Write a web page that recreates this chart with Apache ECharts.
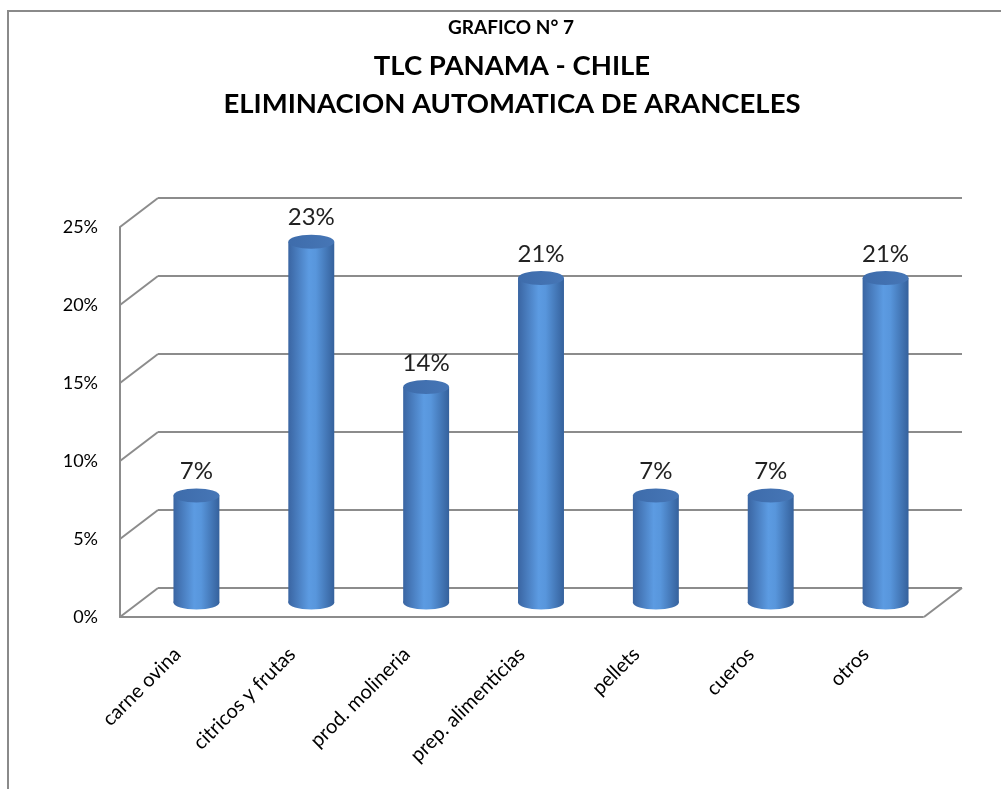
<!DOCTYPE html>
<html>
<head>
<meta charset="utf-8">
<title>TLC Panama - Chile</title>
<script src="https://cdn.jsdelivr.net/npm/echarts@6/dist/echarts.min.js"></script>
<style>
  html, body { margin: 0; padding: 0; background: #fff; }
  #main { width: 1001px; height: 789px; }
</style>
</head>
<body>
<div id="main"></div>
<script>
var categories = ["carne ovina", "citricos y frutas", "prod. molineria", "prep. alimenticias", "pellets", "cueros", "otros"];
var shares = [0.0698, 0.2326, 0.1395, 0.2093, 0.0698, 0.0698, 0.2093];
var yTicks = [0, 0.05, 0.10, 0.15, 0.20, 0.25];
var titleLines = ["GRAFICO N° 7", "TLC PANAMA - CHILE", "ELIMINACION AUTOMATICA DE ARANCELES"];

// desplazamiento de profundidad: pared trasera -> plano frontal
var DX = -38, DY = 29;
var FONT = "Lato, 'Open Sans', sans-serif";
var GRID_COLOR = "#8c8c8c";

function pct(v) {
  return Math.round(v * 100) + "%";
}

var myChart = echarts.init(document.getElementById("main"));

var option = {
  animation: false,
  graphic: [
    {
      type: "rect",
      silent: true,
      shape: { x: 8, y: 11, width: 1100, height: 900 },
      style: { fill: "none", stroke: "#8a8a8a", lineWidth: 2 },
    },
    {
      type: "text", x: 511, y: 28,
      style: { text: titleLines[0], align: "center", verticalAlign: "middle", fontSize: 19, fontWeight: "bold", fontFamily: FONT, fill: "#000" },
    },
    {
      type: "text", x: 512, y: 66,
      style: { text: titleLines[1], align: "center", verticalAlign: "middle", fontSize: 27.5, fontWeight: "bold", fontFamily: FONT, fill: "#000" },
    },
    {
      type: "text", x: 512, y: 104,
      style: { text: titleLines[2], align: "center", verticalAlign: "middle", fontSize: 27.5, fontWeight: "bold", fontFamily: FONT, fill: "#000" },
    },
  ],
  grid: [
    // pared del fondo
    { left: 158, right: 39, top: 198, bottom: 201 },
    // plano frontal
    { left: 120, right: 78, top: 227, bottom: 172 },
  ],
  xAxis: [
    {
      type: "category",
      gridIndex: 0,
      data: categories,
      axisLine: { show: false },
      axisTick: { show: false },
      axisLabel: { show: false },
    },
    {
      type: "category",
      gridIndex: 1,
      data: categories,
      axisLine: { show: true, lineStyle: { color: GRID_COLOR, width: 2 } },
      axisTick: { show: false },
      axisLabel: { interval: 0, rotate: 45, margin: 34, color: "#000", fontSize: 20, fontFamily: FONT },
    },
  ],
  yAxis: [
    {
      type: "value",
      gridIndex: 0,
      min: 0,
      max: 0.25,
      interval: 0.05,
      axisLine: { show: false },
      axisTick: { show: false },
      axisLabel: { show: false },
      splitLine: { lineStyle: { color: GRID_COLOR, width: 2 } },
    },
    {
      type: "value",
      gridIndex: 1,
      min: 0,
      max: 0.25,
      interval: 0.05,
      axisLine: { show: true, lineStyle: { color: GRID_COLOR, width: 2 } },
      axisTick: { show: false },
      splitLine: { show: false },
      axisLabel: { formatter: pct, margin: 22, color: "#000", fontSize: 18, fontFamily: FONT, padding: [6, 0, 0, 0] },
    },
  ],
  series: [
    {
      // lineas diagonales de la pared lateral y del piso
      type: "custom",
      silent: true,
      xAxisIndex: 0,
      yAxisIndex: 0,
      data: yTicks.map(function (v) { return [0, v]; }),
      renderItem: function (params, api) {
        var cs = params.coordSys;
        var v = api.value(1);
        var y = api.coord([0, v])[1];
        var st = { stroke: GRID_COLOR, lineWidth: 2 };
        var children = [
          { type: "line", shape: { x1: cs.x, y1: y, x2: cs.x + DX, y2: y + DY }, style: st },
        ];
        if (v === 0) {
          children.push({
            type: "line",
            shape: { x1: cs.x + cs.width, y1: y, x2: cs.x + cs.width + DX, y2: y + DY },
            style: st,
          });
        }
        return { type: "group", children: children };
      },
    },
    {
      // cilindros
      type: "custom",
      xAxisIndex: 0,
      yAxisIndex: 0,
      data: shares.map(function (v, i) { return [i, v]; }),
      renderItem: function (params, api) {
        var top = api.coord([api.value(0), api.value(1)]);
        var base = api.coord([api.value(0), 0]);
        var w = api.size([1, 0])[0] * 0.4;
        var cx = top[0] + DX / 2;
        var ty = top[1] + DY / 2 + 2;
        var by = base[1] + DY / 2;
        var rx = w / 2, ry = 7;
        var body = new echarts.graphic.LinearGradient(0, 0, 1, 0, [
          { offset: 0, color: "#3a65a2" },
          { offset: 0.45, color: "#5c9be2" },
          { offset: 0.6, color: "#5896dc" },
          { offset: 1, color: "#35619c" },
        ]);
        var cap = new echarts.graphic.LinearGradient(0, 0, 1, 0, [
          { offset: 0, color: "#3e6cab" },
          { offset: 1, color: "#4676b6" },
        ]);
        return {
          type: "group",
          children: [
            { type: "ellipse", shape: { cx: cx, cy: by, rx: rx, ry: ry }, style: { fill: body } },
            { type: "rect", shape: { x: cx - rx, y: ty, width: w, height: by - ty }, style: { fill: body } },
            { type: "ellipse", shape: { cx: cx, cy: ty, rx: rx, ry: ry }, style: { fill: cap } },
            {
              type: "text",
              style: {
                text: pct(api.value(1)), x: cx, y: ty - 12,
                align: "center", verticalAlign: "bottom",
                fontSize: 24, fontFamily: FONT, fill: "#222",
              },
            },
          ],
        };
      },
    },
  ],
};

myChart.setOption(option);
</script>
</body>
</html>
